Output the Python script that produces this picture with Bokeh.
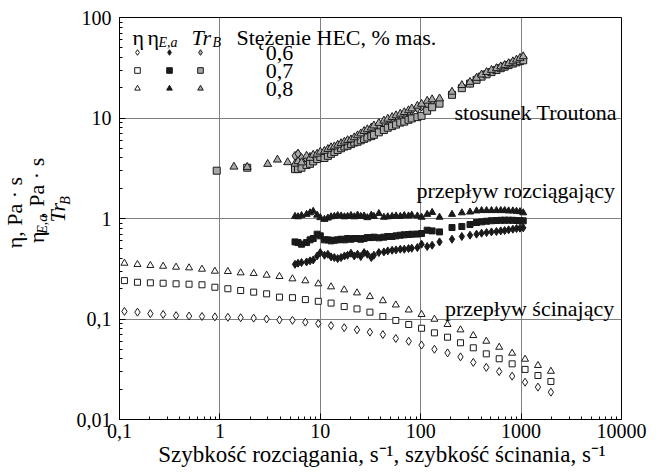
import math
from bokeh.plotting import figure
from bokeh.layouts import row
from bokeh.models import FixedTicker, Label, Legend, LegendItem, CustomJSTickFormatter
from bokeh.core.properties import value
from bokeh.embed import file_html
from bokeh.resources import INLINE

# ---------------- data ----------------
shear_rate = [0.112, 0.151, 0.203, 0.272, 0.366, 0.493, 0.663, 0.891, 1.20, 1.61,
              2.17, 2.92, 3.92, 5.28, 7.10, 9.55, 12.8, 17.3, 23.2, 31.2,
              42.0, 56.5, 76.0, 102, 137, 185, 249, 334, 450, 605,
              814, 1095, 1472, 1980]
eta_06 = [0.119, 0.117, 0.113, 0.111, 0.108, 0.107, 0.106, 0.105, 0.104, 0.103,
          0.102, 0.100, 0.098, 0.097, 0.093, 0.090, 0.086, 0.082, 0.078, 0.074,
          0.070, 0.064, 0.060, 0.055, 0.050, 0.046, 0.042, 0.037, 0.033, 0.030,
          0.027, 0.0235, 0.021, 0.0187]
eta_07 = [0.241, 0.232, 0.229, 0.227, 0.224, 0.222, 0.219, 0.207, 0.200, 0.192,
          0.185, 0.178, 0.165, 0.163, 0.156, 0.150, 0.144, 0.133, 0.126, 0.117,
          0.106, 0.0967, 0.0882, 0.0809, 0.0728, 0.0659, 0.0580, 0.0517, 0.0450, 0.0402,
          0.0358, 0.0315, 0.0274, 0.0239]
eta_08 = [0.359, 0.349, 0.341, 0.335, 0.328, 0.323, 0.313, 0.299, 0.297, 0.288,
          0.284, 0.273, 0.265, 0.251, 0.240, 0.224, 0.209, 0.195, 0.182, 0.167,
          0.152, 0.138, 0.123, 0.111, 0.0995, 0.0882, 0.078, 0.0685, 0.0601, 0.0524,
          0.0457, 0.0398, 0.0345, 0.0302]

ext_rate = [5.6, 6.0, 6.5, 7.3, 7.9, 8.5, 9.3, 10.0, 11.0, 11.9,
            12.8, 13.8, 14.9, 16.1, 17.4, 18.7, 20.2, 21.8, 23.5, 25.3,
            27.3, 29.4, 32.2, 34.2, 38.3, 43.0, 47.0, 51.9, 56.8, 62.6,
            68.6, 75.6, 81.5, 92.7, 102, 116, 130, 154, 205, 257,
            310, 360, 404, 453, 507, 568, 627, 686, 751, 828,
            900, 975, 1050]
etaE_06 = [0.350, 0.359, 0.364, 0.370, 0.379, 0.387, 0.424, 0.458, 0.431, 0.441,
           0.415, 0.409, 0.399, 0.409, 0.424, 0.431, 0.451, 0.424, 0.441, 0.418,
           0.458, 0.441, 0.409, 0.431, 0.458, 0.465, 0.476, 0.483, 0.487, 0.495,
           0.495, 0.502, 0.506, 0.514, 0.555, 0.526, 0.542, 0.585, 0.622, 0.662,
           0.682, 0.698, 0.714, 0.725, 0.736, 0.742, 0.753, 0.759, 0.771, 0.783,
           0.795, 0.801, 0.807]
etaE_07 = [0.585, 0.576, 0.555, 0.576, 0.613, 0.632, 0.698, 0.672, 0.613, 0.613,
           0.599, 0.608, 0.613, 0.622, 0.613, 0.632, 0.622, 0.632, 0.632, 0.622,
           0.632, 0.646, 0.646, 0.652, 0.642, 0.652, 0.662, 0.662, 0.672, 0.682,
           0.688, 0.693, 0.698, 0.700, 0.709, 0.765, 0.753, 0.736, 0.813, 0.832,
           0.871, 0.912, 0.926, 0.940, 0.950, 0.955, 0.960, 0.962, 0.962, 0.960,
           0.955, 0.950, 0.948]
etaE_08 = [1.05, 1.04, 1.07, 1.10, 1.14, 1.18, 1.08, 1.02, 0.98, 1.01,
           1.04, 1.05, 1.07, 1.06, 1.04, 1.05, 1.07, 1.04, 1.08, 1.05,
           1.06, 1.02, 1.08, 1.05, 1.12, 1.03, 1.04, 1.05, 1.06, 1.05,
           1.07, 1.06, 1.08, 1.06, 1.03, 1.10, 1.15, 1.03, 1.10, 1.14,
           1.16, 1.19, 1.20, 1.20, 1.20, 1.20, 1.20, 1.20, 1.19, 1.19,
           1.18, 1.17, 1.14]

tr_rate_06 = [6.0] + ext_rate
tr_06 = [4.4, 4.2, 4.4, 4.0, 3.9, 4.1, 4.2, 4.3, 4.4, 4.6, 4.7,
         4.9, 5.0, 5.3, 5.5, 5.6, 5.8, 6.0, 6.2, 6.4, 6.7,
         7.0, 7.2, 7.5, 7.8, 8.3, 8.8, 9.2, 9.6, 10.0, 10.4,
         10.8, 11.3, 11.8, 12.5, 13.0, 13.8, 14.6, 15.2, 17.6, 20.5,
         22.4, 24.5, 26.3, 27.9, 29.3, 30.6, 31.9, 33.0, 34.3, 35.7,
         37.0, 38.4, 39.8]
tr_rate_07 = [0.93, 1.87] + ext_rate
tr_07 = [2.99, 3.20,
         3.1, 3.1, 3.2, 3.4, 3.5, 3.7, 3.9, 4.1, 4.0, 4.2,
         4.4, 4.6, 4.8, 5.0, 5.2, 5.3, 5.5, 5.7, 5.8, 6.0,
         6.2, 6.4, 6.6, 6.8, 7.2, 7.6, 8.0, 8.3, 8.6, 9.0,
         9.2, 9.6, 9.9, 10.2, 10.5, 11.8, 12.8, 13.9, 17.0, 19.8,
         22.0, 24.0, 25.8, 27.2, 28.6, 30.0, 31.3, 32.4, 33.6, 34.8,
         35.8, 36.8, 37.5]
tr_rate_08 = [1.38, 1.87, 2.99, 3.74, 4.73] + ext_rate
tr_08 = [3.27, 3.25, 3.48, 3.84, 3.62,
         3.5, 3.7, 3.6, 4.2, 4.0, 4.3, 4.4, 4.6, 4.7, 4.9,
         5.1, 5.2, 5.4, 5.6, 5.8, 6.0, 6.1, 6.4, 6.7, 7.0,
         7.4, 7.7, 8.0, 8.4, 8.9, 9.4, 9.8, 10.2, 10.6, 11.0,
         11.4, 11.9, 12.4, 13.2, 13.8, 14.8, 15.3, 15.6, 18.2, 21.2,
         22.8, 25.0, 27.0, 28.6, 30.0, 31.2, 32.5, 33.6, 35.0, 36.5,
         38.0, 39.5, 41.0]

x_ticks = [0.1, 1, 10, 100, 1000, 10000]
y_ticks = [0.01, 0.1, 1, 10, 100]
concentrations = ["0,6", "0,7", "0,8"]
x_title = "\u2002\u2002Szybkość rozciągania, s\u207b\u00b9, szybkość ścinania, s\u207b\u00b9"

# ---------------- layout geometry (page pixels) ----------------
FONT = "Liberation Serif"
PAGE_W, PAGE_H = 662, 475
FRAME_L, FRAME_R, FRAME_T, FRAME_B = 117, 621, 17, 419
W_LEFT = 73          # strip left of the main figure (y-axis title)

# ---------------- main figure ----------------
p = figure(width=PAGE_W - W_LEFT, height=PAGE_H, x_axis_type="log", y_axis_type="log",
           x_range=(0.1, 10000), y_range=(0.01, 100),
           output_backend="svg", toolbar_location=None,
           min_border_left=FRAME_L - W_LEFT, min_border_right=PAGE_W - FRAME_R,
           min_border_top=FRAME_T, min_border_bottom=PAGE_H - FRAME_B)
p.background_fill_color = "white"
p.border_fill_color = "white"
p.outline_line_color = "black"
p.outline_line_width = 1
p.outline_line_alpha = 1

minor_x = [k * 10.0 ** e for e in range(-1, 4) for k in range(2, 10)]
minor_y = [k * 10.0 ** e for e in range(-2, 2) for k in range(2, 10)]
p.xaxis.ticker = FixedTicker(ticks=x_ticks, minor_ticks=minor_x)
p.yaxis.ticker = FixedTicker(ticks=y_ticks, minor_ticks=minor_y)
p.xgrid.ticker = FixedTicker(ticks=x_ticks[1:-1])
p.ygrid.ticker = FixedTicker(ticks=y_ticks[1:-1])
p.xaxis.formatter = CustomJSTickFormatter(code="return tick.toString().replace('.', ',');")
p.yaxis.formatter = CustomJSTickFormatter(code="return tick.toString().replace('.', ',');")

for ax in (p.xaxis, p.yaxis):
    ax.axis_line_color = "black"
    ax.major_tick_line_color = "black"
    ax.minor_tick_line_color = "black"
    ax.major_tick_in = 6
    ax.major_tick_out = 0
    ax.minor_tick_in = 3
    ax.minor_tick_out = 0
    ax.major_label_text_font = FONT
    ax.major_label_text_font_size = "20px"
    ax.major_label_text_color = "black"
p.xaxis.major_label_standoff = 4
p.yaxis.major_label_standoff = 8

p.xaxis.axis_label = x_title
p.xaxis.axis_label_text_font = FONT
p.xaxis.axis_label_text_font_size = "23px"
p.xaxis.axis_label_text_font_style = "normal"
p.xaxis.axis_label_text_color = "black"
p.xaxis.axis_label_standoff = 1

p.grid.grid_line_color = "#808080"
p.grid.grid_line_width = 1

BLACK = "#1a1a1a"
GREY = "#a8a8a8"

# shear viscosity (open markers)
r_s06 = p.scatter(shear_rate, eta_06, marker="diamond", size=8, line_color=BLACK, fill_color="white", line_width=1)
r_s07 = p.scatter(shear_rate, eta_07, marker="square", size=6, line_color=BLACK, fill_color="white", line_width=1)
r_s08 = p.scatter(shear_rate, eta_08, marker="triangle", size=7, line_color=BLACK, fill_color="white", line_width=1)
# extensional viscosity (filled)
r_e06 = p.scatter(ext_rate, etaE_06, marker="diamond", size=8, line_color=BLACK, fill_color=BLACK, line_width=1)
r_e07 = p.scatter(ext_rate, etaE_07, marker="square", size=6, line_color=BLACK, fill_color=BLACK, line_width=1)
r_e08 = p.scatter(ext_rate, etaE_08, marker="triangle", size=7, line_color=BLACK, fill_color=BLACK, line_width=1)
# Trouton ratio (grey filled)
r_t06 = p.scatter(tr_rate_06, tr_06, marker="diamond", size=9, line_color=BLACK, fill_color=GREY, line_width=1)
r_t07 = p.scatter(tr_rate_07, tr_07, marker="square", size=7, line_color=BLACK, fill_color=GREY, line_width=1)
r_t08 = p.scatter(tr_rate_08, tr_08, marker="triangle", size=8, line_color=BLACK, fill_color=GREY, line_width=1)

# ---------------- legend (three marker columns) ----------------
def marker_column(renderers, x):
    leg = Legend(items=[LegendItem(label=value(""), renderers=[r]) for r in renderers],
                 location=(x, 324), orientation="vertical",
                 glyph_width=14, glyph_height=14, spacing=4, padding=0, margin=0,
                 label_width=0, label_height=14, label_standoff=0,
                 label_text_font_size="1px",
                 border_line_color=None, background_fill_alpha=0)
    p.add_layout(leg)

marker_column([r_s06, r_s07, r_s08], 11)
marker_column([r_e06, r_e07, r_e08], 43)
marker_column([r_t06, r_t07, r_t08], 74)


def lab(text, x, y, size="22px", style="normal", align="left", baseline="alphabetic"):
    p.add_layout(Label(x=x, y=y, x_units="screen", y_units="screen", text=text,
                       text_font=FONT, text_font_size=size, text_font_style=style,
                       text_align=align, text_baseline=baseline, text_color="black"))

# legend header
lab("η", 13, 382)
lab("η", 28, 382)
lab("E,a", 39, 377, size="14px", style="italic")
lab("Tr", 72, 382, style="italic")
lab("B", 93, 377, size="14px", style="italic")
lab("Stężenie HEC, % mas.", 117, 382)
for i, c in enumerate(concentrations):
    lab(c, 160, 367 - 18 * i, align="center", baseline="middle")

# curve annotations
lab("stosunek Troutona", 335, 307)
lab("przepływ rozciągający", 297, 229.5)
lab("przepływ ścinający", 325.5, 111.3)


# ---------------- strip for the y-axis title ----------------
left = figure(width=W_LEFT, height=PAGE_H, x_range=(0, W_LEFT), y_range=(0, PAGE_H),
              x_axis_location=None, y_axis_location=None, min_border=0,
              output_backend="svg", toolbar_location=None)
left.outline_line_color = None
left.background_fill_color = "white"
left.border_fill_color = "white"
left.xgrid.visible = False
left.ygrid.visible = False

DY = 14  # measured vertical correction of rotated text in this strip


def txt(text, px, py, size, style="normal", align="left"):
    # px, py: page position (from the top-left corner); text runs bottom-to-top
    left.text(x=[px], y=[PAGE_H - (py + DY)], text=[text], angle=math.pi / 2,
              text_font=value(FONT), text_font_size=value(size), text_font_style=value(style),
              text_align=value(align), text_baseline=value("middle"), text_color="black")


txt("η, Pa · s", 14, 216.5, "22px", align="center")
txt("η", 36, 252.5, "22px")
txt("E,a", 42, 241.5, "14px", style="italic")
txt(", Pa · s", 36, 222.5, "22px")
txt("Tr", 57, 228.2, "22px", style="italic")
txt("B", 65, 207.4, "14px", style="italic")

layout = row(left, p, spacing=0)

open("out.html", "w").write(file_html(layout, INLINE))
